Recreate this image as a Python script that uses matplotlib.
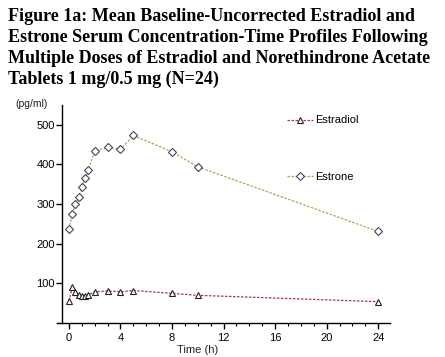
import matplotlib.pyplot as plt
from matplotlib.ticker import MultipleLocator

# time points (h)
time_h = [0, 0.25, 0.5, 0.75, 1, 1.25, 1.5, 2, 3, 4, 5, 8, 10, 24]

# mean serum concentrations (pg/ml)
estradiol = [55, 90, 78, 72, 68, 68, 71, 79, 81, 79, 82, 75, 70, 54]
estrone = [236, 274, 300, 317, 342, 365, 387, 434, 443, 438, 473, 432, 394, 231]

title = ("Figure 1a: Mean Baseline-Uncorrected Estradiol and\n"
         "Estrone Serum Concentration-Time Profiles Following\n"
         "Multiple Doses of Estradiol and Norethindrone Acetate\n"
         "Tablets 1 mg/0.5 mg (N=24)")

plt.rcParams['font.family'] = ['Liberation Sans', 'DejaVu Sans']

fig = plt.figure(figsize=(4.45, 3.57), dpi=100)
ax = fig.add_axes([0.139, 0.095, 0.737, 0.611])

red = '#b03a3a'
olive = '#a9a94e'

ax.plot(time_h, estradiol, linestyle=(0, (2, 1.2)), color=red, linewidth=0.9,
        marker='^', markersize=4.2, markerfacecolor='white',
        markeredgecolor='#222222', markeredgewidth=0.8, label='Estradiol')
ax.plot(time_h, estrone, linestyle=(0, (2, 1.2)), color=olive, linewidth=0.9,
        marker='D', markersize=3.6, markerfacecolor='white',
        markeredgecolor='#444455', markeredgewidth=0.8, label='Estrone')

ax.set_xlim(-0.55, 24.9)
ax.set_ylim(0, 550)
ax.set_xticks([0, 4, 8, 12, 16, 20, 24])
ax.xaxis.set_minor_locator(MultipleLocator(1))
ax.set_yticks([0, 100, 200, 300, 400, 500])
ax.set_yticklabels(['', '100', '200', '300', '400', '500'])
ax.tick_params(axis='both', which='major', labelsize=8, length=4, width=1,
               direction='out')
ax.tick_params(axis='x', which='major', pad=3)
ax.tick_params(axis='y', which='major', pad=1)
ax.tick_params(axis='x', which='minor', length=2.5, width=0.8, direction='out')

for s in ['top', 'right']:
    ax.spines[s].set_visible(False)
for s in ['left', 'bottom']:
    ax.spines[s].set_linewidth(1.0)

ax.text(10, -68, 'Time (h)', ha='center', va='center', fontsize=8,
        color='#222222')
fig.text(0.034, 0.71, '(pg/ml)', ha='left', va='center', fontsize=7.5,
         color='#222222')

ax.legend(loc='upper left', bbox_to_anchor=(0.685, 0.952), frameon=False,
          fontsize=8, labelspacing=4.2, handlelength=2.4, handletextpad=0.2,
          borderpad=0, borderaxespad=0)

fig.text(0.018, 0.978, title, ha='left', va='top', fontsize=13,
         fontweight='bold', family='Liberation Serif', linespacing=1.3)

fig.savefig('out.png', dpi=100)
